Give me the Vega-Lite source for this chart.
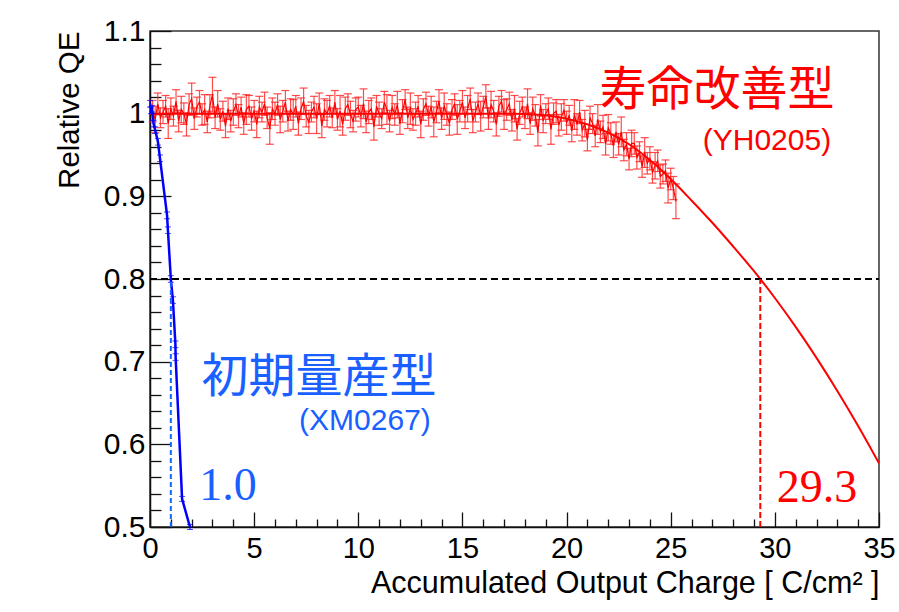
{
  "$schema": "https://vega.github.io/schema/vega-lite/v6.json",
  "width": 729,
  "height": 496,
  "autosize": {"type": "none"},
  "padding": {"left": 150, "top": 31, "right": 20, "bottom": 85},
  "background": "white",
  "config": {
    "font": "Liberation Sans",
    "view": {"stroke": "#333333", "strokeWidth": 1.5}
  },
  "datasets": {
    "red": [
      {"x":0.125,"y":1.003,"e":0.013},{"x":0.25,"y":0.993,"e":0.016},{"x":0.375,"y":1.012,"e":0.013},{"x":0.5,"y":0.995,"e":0.012},
      {"x":0.625,"y":1.002,"e":0.014},{"x":0.75,"y":1.009,"e":0.013},{"x":0.875,"y":0.988,"e":0.018},{"x":1.0,"y":1.006,"e":0.013},
      {"x":1.125,"y":0.997,"e":0.012},{"x":1.25,"y":1.015,"e":0.014},{"x":1.375,"y":0.991,"e":0.013},{"x":1.5,"y":1.005,"e":0.016},
      {"x":1.625,"y":1.000,"e":0.013},{"x":1.75,"y":0.987,"e":0.014},{"x":1.875,"y":1.011,"e":0.013},{"x":2.0,"y":1.018,"e":0.019},
      {"x":2.125,"y":0.994,"e":0.013},{"x":2.25,"y":1.008,"e":0.012},{"x":2.375,"y":1.014,"e":0.014},{"x":2.5,"y":0.999,"e":0.013},
      {"x":2.625,"y":1.005,"e":0.018},{"x":2.75,"y":0.990,"e":0.013},{"x":2.875,"y":1.009,"e":0.014},{"x":3.0,"y":1.023,"e":0.021},
      {"x":3.125,"y":0.995,"e":0.013},{"x":3.25,"y":1.012,"e":0.016},{"x":3.375,"y":0.993,"e":0.013},{"x":3.5,"y":1.003,"e":0.012},
      {"x":3.625,"y":0.985,"e":0.014},{"x":3.75,"y":1.006,"e":0.013},{"x":3.875,"y":0.991,"e":0.013},{"x":4.0,"y":1.002,"e":0.016},
      {"x":4.125,"y":1.011,"e":0.013},{"x":4.25,"y":0.997,"e":0.014},{"x":4.375,"y":1.008,"e":0.012},{"x":4.5,"y":0.988,"e":0.013},
      {"x":4.625,"y":1.005,"e":0.018},{"x":4.75,"y":1.009,"e":0.013},{"x":4.875,"y":0.994,"e":0.014},{"x":5.0,"y":1.003,"e":0.013},
      {"x":5.125,"y":0.987,"e":0.016},{"x":5.25,"y":1.008,"e":0.013},{"x":5.375,"y":1.002,"e":0.012},{"x":5.5,"y":1.012,"e":0.014},
      {"x":5.625,"y":0.995,"e":0.013},{"x":5.75,"y":0.982,"e":0.019},{"x":5.875,"y":1.006,"e":0.013},{"x":6.0,"y":1.000,"e":0.014},
      {"x":6.125,"y":1.011,"e":0.013},{"x":6.25,"y":0.993,"e":0.016},{"x":6.375,"y":1.003,"e":0.013},{"x":6.5,"y":1.014,"e":0.014},
      {"x":6.625,"y":0.991,"e":0.012},{"x":6.75,"y":1.005,"e":0.013},{"x":6.875,"y":0.999,"e":0.018},{"x":7.0,"y":1.009,"e":0.013},
      {"x":7.125,"y":0.988,"e":0.014},{"x":7.25,"y":1.006,"e":0.013},{"x":7.375,"y":1.015,"e":0.016},{"x":7.5,"y":0.997,"e":0.013},
      {"x":7.625,"y":0.990,"e":0.014},{"x":7.75,"y":1.002,"e":0.012},{"x":7.875,"y":1.008,"e":0.013},{"x":8.0,"y":0.994,"e":0.018},
      {"x":8.125,"y":1.012,"e":0.013},{"x":8.25,"y":0.985,"e":0.014},{"x":8.375,"y":1.005,"e":0.013},{"x":8.5,"y":1.000,"e":0.016},
      {"x":8.625,"y":1.009,"e":0.013},{"x":8.75,"y":0.995,"e":0.012},{"x":8.875,"y":1.014,"e":0.014},{"x":9.0,"y":0.993,"e":0.013},
      {"x":9.125,"y":1.003,"e":0.019},{"x":9.25,"y":0.987,"e":0.013},{"x":9.375,"y":1.006,"e":0.014},{"x":9.5,"y":1.011,"e":0.013},
      {"x":9.625,"y":0.999,"e":0.016},{"x":9.75,"y":0.991,"e":0.013},{"x":9.875,"y":1.005,"e":0.014},{"x":10.0,"y":1.008,"e":0.012},
      {"x":10.125,"y":0.997,"e":0.013},{"x":10.25,"y":1.012,"e":0.018},{"x":10.375,"y":0.990,"e":0.013},{"x":10.5,"y":1.002,"e":0.014},
      {"x":10.625,"y":1.006,"e":0.013},{"x":10.75,"y":0.984,"e":0.016},{"x":10.875,"y":1.009,"e":0.013},{"x":11.0,"y":1.000,"e":0.014},
      {"x":11.125,"y":0.994,"e":0.012},{"x":11.25,"y":1.014,"e":0.013},{"x":11.375,"y":1.005,"e":0.018},{"x":11.5,"y":0.991,"e":0.013},
      {"x":11.625,"y":1.008,"e":0.014},{"x":11.75,"y":0.999,"e":0.013},{"x":11.875,"y":1.011,"e":0.016},{"x":12.0,"y":0.988,"e":0.013},
      {"x":12.125,"y":1.003,"e":0.014},{"x":12.25,"y":1.017,"e":0.012},{"x":12.375,"y":0.995,"e":0.013},{"x":12.5,"y":1.006,"e":0.019},
      {"x":12.625,"y":0.993,"e":0.013},{"x":12.75,"y":1.000,"e":0.014},{"x":12.875,"y":1.009,"e":0.013},{"x":13.0,"y":0.987,"e":0.016},
      {"x":13.125,"y":1.005,"e":0.013},{"x":13.25,"y":1.012,"e":0.014},{"x":13.375,"y":0.997,"e":0.012},{"x":13.5,"y":1.008,"e":0.013},
      {"x":13.625,"y":0.990,"e":0.018},{"x":13.75,"y":1.002,"e":0.013},{"x":13.875,"y":1.015,"e":0.014},{"x":14.0,"y":0.994,"e":0.013},
      {"x":14.125,"y":1.009,"e":0.016},{"x":14.25,"y":0.999,"e":0.013},{"x":14.375,"y":0.988,"e":0.014},{"x":14.5,"y":1.005,"e":0.012},
      {"x":14.625,"y":1.011,"e":0.013},{"x":14.75,"y":0.993,"e":0.018},{"x":14.875,"y":1.003,"e":0.013},{"x":15.0,"y":1.014,"e":0.014},
      {"x":15.125,"y":0.995,"e":0.013},{"x":15.25,"y":1.006,"e":0.016},{"x":15.375,"y":1.018,"e":0.013},{"x":15.5,"y":0.991,"e":0.014},
      {"x":15.625,"y":1.002,"e":0.012},{"x":15.75,"y":1.012,"e":0.013},{"x":15.875,"y":0.997,"e":0.018},{"x":16.0,"y":1.008,"e":0.013},
      {"x":16.125,"y":1.021,"e":0.014},{"x":16.25,"y":0.994,"e":0.013},{"x":16.375,"y":1.011,"e":0.016},{"x":16.5,"y":1.003,"e":0.013},
      {"x":16.625,"y":0.987,"e":0.014},{"x":16.75,"y":1.009,"e":0.012},{"x":16.875,"y":1.015,"e":0.013},{"x":17.0,"y":0.999,"e":0.018},
      {"x":17.125,"y":1.005,"e":0.013},{"x":17.25,"y":1.012,"e":0.014},{"x":17.375,"y":0.992,"e":0.013},{"x":17.5,"y":1.006,"e":0.016},
      {"x":17.625,"y":0.981,"e":0.013},{"x":17.75,"y":1.001,"e":0.014},{"x":17.875,"y":1.008,"e":0.012},{"x":18.0,"y":0.995,"e":0.013},
      {"x":18.125,"y":1.012,"e":0.018},{"x":18.25,"y":0.988,"e":0.013},{"x":18.375,"y":1.006,"e":0.014},{"x":18.5,"y":0.998,"e":0.013},
      {"x":18.625,"y":0.977,"e":0.016},{"x":18.75,"y":1.010,"e":0.013},{"x":18.875,"y":0.991,"e":0.014},{"x":19.0,"y":1.000,"e":0.012},
      {"x":19.125,"y":1.006,"e":0.013},{"x":19.25,"y":0.981,"e":0.018},{"x":19.375,"y":1.000,"e":0.013},{"x":19.5,"y":1.003,"e":0.014},
      {"x":19.625,"y":0.986,"e":0.013},{"x":19.75,"y":0.996,"e":0.016},{"x":19.875,"y":1.004,"e":0.013},{"x":20.0,"y":0.989,"e":0.014},
      {"x":20.125,"y":0.998,"e":0.012},{"x":20.25,"y":0.979,"e":0.013},{"x":20.375,"y":0.999,"e":0.018},{"x":20.5,"y":0.987,"e":0.013},
      {"x":20.625,"y":1.002,"e":0.014},{"x":20.75,"y":0.980,"e":0.013},{"x":20.875,"y":0.988,"e":0.016},{"x":21.0,"y":0.968,"e":0.013},
      {"x":21.125,"y":0.995,"e":0.014},{"x":21.25,"y":0.988,"e":0.012},{"x":21.375,"y":0.973,"e":0.013},{"x":21.5,"y":0.993,"e":0.018},
      {"x":21.625,"y":0.978,"e":0.013},{"x":21.75,"y":0.984,"e":0.014},{"x":21.875,"y":0.963,"e":0.013},{"x":22.0,"y":0.983,"e":0.016},
      {"x":22.125,"y":0.976,"e":0.013},{"x":22.25,"y":0.961,"e":0.014},{"x":22.375,"y":0.978,"e":0.012},{"x":22.5,"y":0.963,"e":0.013},
      {"x":22.625,"y":0.978,"e":0.018},{"x":22.75,"y":0.956,"e":0.013},{"x":22.875,"y":0.963,"e":0.014},{"x":23.0,"y":0.945,"e":0.013},
      {"x":23.125,"y":0.964,"e":0.016},{"x":23.25,"y":0.964,"e":0.013},{"x":23.375,"y":0.947,"e":0.014},{"x":23.5,"y":0.954,"e":0.012},
      {"x":23.625,"y":0.936,"e":0.013},{"x":23.75,"y":0.953,"e":0.018},{"x":23.875,"y":0.940,"e":0.013},{"x":24.0,"y":0.946,"e":0.014},
      {"x":24.125,"y":0.929,"e":0.013},{"x":24.25,"y":0.937,"e":0.016},{"x":24.375,"y":0.943,"e":0.013},{"x":24.5,"y":0.924,"e":0.014},
      {"x":24.625,"y":0.927,"e":0.012},{"x":24.75,"y":0.931,"e":0.013},{"x":24.875,"y":0.910,"e":0.018},{"x":25.0,"y":0.921,"e":0.013},
      {"x":25.125,"y":0.910,"e":0.014},{"x":25.25,"y":0.894,"e":0.021}
    ],
    "fit": [
      {"x":0,"y":1.0},{"x":17.5,"y":1.0},{"x":19,"y":0.998},{"x":20,"y":0.994},
      {"x":21,"y":0.987},{"x":22,"y":0.977},{"x":23,"y":0.963},{"x":24,"y":0.944},{"x":25,"y":0.921},
      {"x":26,"y":0.895},{"x":27,"y":0.868},{"x":28,"y":0.8393},{"x":29,"y":0.8094},{"x":30,"y":0.777},
      {"x":31,"y":0.7421},{"x":32,"y":0.7046},{"x":33,"y":0.6646},{"x":34,"y":0.6221},{"x":35,"y":0.577}
    ],
    "blue": [
      {"x":0.0,"y":1.012,"e":0.004},{"x":0.05,"y":1.004,"e":0.004},{"x":0.1,"y":1.006,"e":0.004},{"x":0.13,"y":0.996,"e":0.004},
      {"x":0.17,"y":0.988,"e":0.004},{"x":0.25,"y":0.980,"e":0.004},{"x":0.38,"y":0.966,"e":0.004},{"x":0.48,"y":0.946,"e":0.004},
      {"x":0.82,"y":0.877,"e":0.004},{"x":0.86,"y":0.859,"e":0.004},{"x":1.0,"y":0.800,"e":0.004},{"x":1.1,"y":0.7745,"e":0.004},
      {"x":1.22,"y":0.721,"e":0.004},{"x":1.23,"y":0.7056,"e":0.004},{"x":1.54,"y":0.534,"e":0.003},{"x":1.92,"y":0.500,"e":0.003}
    ]
  },
  "encoding": {
    "x": {
      "field": "x", "type": "quantitative",
      "scale": {"domain": [0, 35], "nice": false, "zero": false},
      "axis": {
        "title": "Accumulated Output Charge [ C/cm² ]",
        "values": [0,1,2,3,4,5,6,7,8,9,10,11,12,13,14,15,16,17,18,19,20,21,22,23,24,25,26,27,28,29,30,31,32,33,34,35],
        "labelExpr": "datum.value % 5 == 0 ? datum.label : ''",
        "tickSize": {"condition": {"test": "datum.value % 5 == 0", "value": -15}, "value": -8},
        "tickColor": "#111111", "tickWidth": 1.3,
        "domainColor": "#111111", "domainWidth": 1.5,
        "grid": false,
        "labelFont": "Liberation Sans", "labelFontSize": 29, "labelColor": "#000000",
        "labelPadding": 22, "labelFlush": false, "labelOverlap": false,
        "titleFont": "Liberation Sans", "titleFontSize": 30.5, "titleFontWeight": "normal", "titleColor": "#000000",
        "titleAnchor": "end", "titleAlign": "right", "titleBaseline": "alphabetic", "titleX": 729, "titleY": 65
      }
    },
    "y": {
      "field": "y", "type": "quantitative",
      "scale": {"domain": [0.5, 1.1], "nice": false, "zero": false},
      "axis": {
        "title": "Relative QE",
        "values": [0.5,0.52,0.54,0.56,0.58,0.6,0.62,0.64,0.66,0.68,0.7,0.72,0.74,0.76,0.78,0.8,0.82,0.84,0.86,0.88,0.9,0.92,0.94,0.96,0.98,1,1.02,1.04,1.06,1.08,1.1],
        "labelExpr": "abs(datum.value*10 - round(datum.value*10)) < 0.001 ? (abs(datum.value - 1) < 0.001 ? '1' : format(datum.value, '.1f')) : ''",
        "tickSize": {"condition": {"test": "abs(datum.value*10 - round(datum.value*10)) < 0.001", "value": -21}, "value": -11},
        "tickColor": "#111111", "tickWidth": 1.3,
        "domainColor": "#111111", "domainWidth": 1.5,
        "grid": false,
        "labelFont": "Liberation Sans", "labelFontSize": 30, "labelColor": "#000000",
        "labelPadding": 26, "labelFlush": false, "labelOverlap": false,
        "titleFont": "Liberation Sans", "titleFontSize": 29.5, "titleFontWeight": "normal", "titleColor": "#000000",
        "titleAngle": -90, "titleAnchor": "end", "titleAlign": "right", "titleBaseline": "middle", "titleX": -81, "titleY": 0
      }
    }
  },
  "layer": [
    {
      "data": {"name": "red"},
      "mark": {"type": "errorbar", "color": "#ff2020", "opacity": 0.8, "thickness": 1.2, "ticks": {"size": 8, "thickness": 1.2}},
      "encoding": {"yError": {"field": "e"}}
    },
    {
      "data": {"name": "red"},
      "mark": {"type": "line", "color": "#ff0000", "strokeWidth": 1.2, "clip": true}
    },
    {
      "data": {"name": "fit"},
      "mark": {"type": "line", "color": "#ff0000", "strokeWidth": 2, "interpolate": "monotone", "clip": true}
    },
    {
      "data": {"name": "blue"},
      "mark": {"type": "errorbar", "color": "#0000ff", "thickness": 1, "ticks": {"size": 6, "thickness": 1}},
      "encoding": {"yError": {"field": "e"}}
    },
    {
      "data": {"name": "blue"},
      "mark": {"type": "line", "color": "#0000ff", "strokeWidth": 2.5, "clip": true}
    },
    {
      "data": {"values": [{"x": 0, "x2": 35, "y": 0.8}]},
      "mark": {"type": "rule", "color": "#000000", "strokeWidth": 2, "strokeDash": [7, 4]},
      "encoding": {"x2": {"field": "x2"}}
    },
    {
      "data": {"values": [{"x": 29.3, "y": 0.5, "y2": 0.8}]},
      "mark": {"type": "rule", "color": "#ff0000", "strokeWidth": 2, "strokeDash": [6, 3]},
      "encoding": {"y2": {"field": "y2"}}
    },
    {
      "data": {"values": [{"x": 1.0, "y": 0.5, "y2": 0.8}]},
      "mark": {"type": "rule", "color": "#1466ff", "strokeWidth": 2, "strokeDash": [5, 3]},
      "encoding": {"y2": {"field": "y2"}}
    },
    {
      "data": {"values": [{"x": 27.22, "y": 1.0103, "t": "寿命改善型"}]},
      "mark": {"type": "text", "font": "Noto Sans CJK JP", "fontSize": 47, "color": "#ff0000", "align": "center", "baseline": "alphabetic"},
      "encoding": {"text": {"field": "t"}}
    },
    {
      "data": {"values": [{"x": 29.62, "y": 0.9559, "t": "(YH0205)"}]},
      "mark": {"type": "text", "font": "Liberation Sans", "fontSize": 30, "color": "#ff0000", "align": "center", "baseline": "alphabetic"},
      "encoding": {"text": {"field": "t"}}
    },
    {
      "data": {"values": [{"x": 8.11, "y": 0.6632, "t": "初期量産型"}]},
      "mark": {"type": "text", "font": "Noto Sans CJK JP", "fontSize": 47, "color": "#1a5fff", "align": "center", "baseline": "alphabetic"},
      "encoding": {"text": {"field": "t"}}
    },
    {
      "data": {"values": [{"x": 10.32, "y": 0.617, "t": "(XM0267)"}]},
      "mark": {"type": "text", "font": "Liberation Sans", "fontSize": 30, "color": "#1a5fff", "align": "center", "baseline": "alphabetic"},
      "encoding": {"text": {"field": "t"}}
    },
    {
      "data": {"values": [{"x": 3.75, "y": 0.5327, "t": "1.0"}]},
      "mark": {"type": "text", "font": "Liberation Serif", "fontSize": 46, "color": "#1a5fff", "align": "center", "baseline": "alphabetic"},
      "encoding": {"text": {"field": "t"}}
    },
    {
      "data": {"values": [{"x": 32.02, "y": 0.530, "t": "29.3"}]},
      "mark": {"type": "text", "font": "Liberation Serif", "fontSize": 46, "color": "#ff0000", "align": "center", "baseline": "alphabetic"},
      "encoding": {"text": {"field": "t"}}
    }
  ]
}
